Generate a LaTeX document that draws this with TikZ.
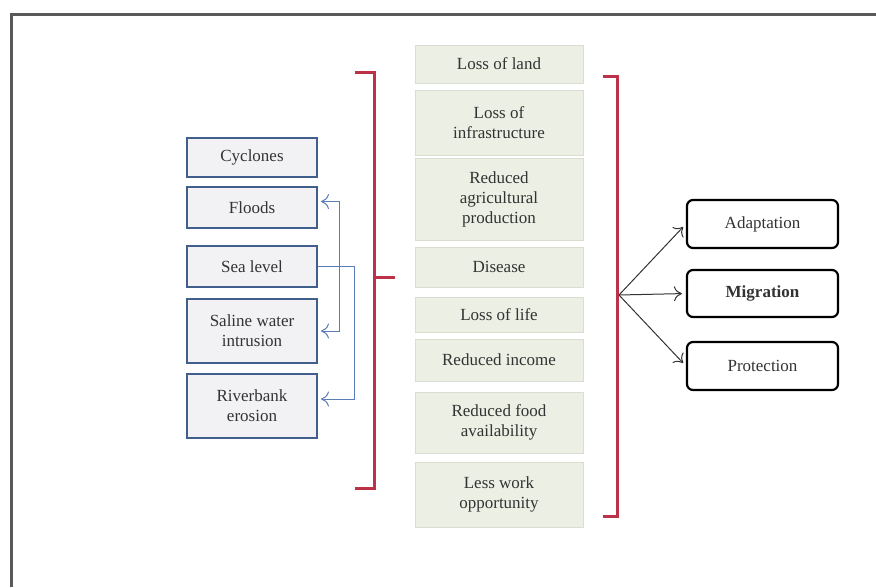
\documentclass[tikz,border=0pt]{standalone}
\usepackage{fontspec}
\setmainfont{Liberation Serif}
\usetikzlibrary{arrows.meta}

\definecolor{brk}{RGB}{188,50,72}
\definecolor{hazline}{RGB}{65,95,140}
\definecolor{hazfill}{RGB}{242,242,245}
\definecolor{impfill}{RGB}{236,239,227}
\definecolor{impline}{RGB}{218,222,208}
\definecolor{linkblue}{RGB}{90,125,185}

\begin{document}
\begin{tikzpicture}[x=1pt,y=-1pt,
    every node/.style={font=\fontsize{17}{20}\selectfont, text=black!80, align=center, inner sep=2pt},
    hazard/.style={draw=hazline, line width=2pt, fill=hazfill, minimum width=130pt},
    impact/.style={draw=impline, fill=impfill, line width=0.8pt, minimum width=168pt},
    response/.style={draw=black, line width=2.2pt, rounded corners=6pt, fill=white, minimum width=151pt},
    tip/.style={-{To[length=8pt,width=15pt]}},
    link/.style={draw=linkblue, line width=1pt, shorten >=3pt, tip},
    fan/.style={draw=black!80, line width=1pt, shorten >=4pt, tip},
    bracket/.style={draw=brk, line width=3pt},
    ]
    \useasboundingbox (0,0) rectangle (876,587);

    % Frame
    \draw[gray!70!black, line width=3pt] (11,587) -- (11,14) -- (876,14);

    % Hazards
    \node[hazard, minimum height=39pt] (cyc) at (252,157.5) {Cyclones};
    \node[hazard, minimum height=41pt] (flo) at (252,207.5) {Floods};
    \node[hazard, minimum height=41pt] (sea) at (252,266.5) {Sea level};
    \node[hazard, minimum height=64pt] (sal) at (252,331) {Saline water\\intrusion};
    \node[hazard, minimum height=64pt] (riv) at (252,406) {Riverbank\\erosion};

    \draw[link] (sea.east) -- ++(36,0) |- ([yshift=7pt]riv.east);
    \draw[link, shorten <=3pt, {To[length=8pt,width=15pt]}-{To[length=8pt,width=15pt]}]
        ([yshift=6pt]flo.east) -- ++(21,0) |- (sal.east);

    % Impacts
    \node[impact, minimum height=38pt] (land) at (499,64) {Loss of land};
    \node[impact, minimum height=65pt] (infra) at (499,122.5) {Loss of\\infrastructure};
    \node[impact, minimum height=82pt] (agri) at (499,199) {Reduced\\agricultural\\production};
    \node[impact, minimum height=40pt] (dis) at (499,267) {Disease};
    \node[impact, minimum height=35pt] (life) at (499,314.5) {Loss of life};
    \node[impact, minimum height=42pt] (inc) at (499,360) {Reduced income};
    \node[impact, minimum height=61pt] (food) at (499,422.5) {Reduced food\\availability};
    \node[impact, minimum height=65pt] (work) at (499,494.5) {Less work\\opportunity};

    % Brackets
    \draw[bracket] (355,72) -- (374,72) -- (374,488) -- (355,488);
    \draw[bracket] (374,277) -- (395,277);
    \draw[bracket] (603,76) -- (617,76) -- (617,516) -- (603,516);
    \coordinate (fork) at (619,295);

    % Responses
    \node[response, minimum height=48pt] (ada) at (762.5,224) {Adaptation};
    \node[response, minimum height=47pt] (mig) at (762.5,293.5) {\textbf{Migration}};
    \node[response, minimum height=48pt] (pro) at (762.5,366) {Protection};

    \foreach \r in {ada,mig,pro}
        \draw[fan] (fork) -- (\r.west);
\end{tikzpicture}
\end{document}
